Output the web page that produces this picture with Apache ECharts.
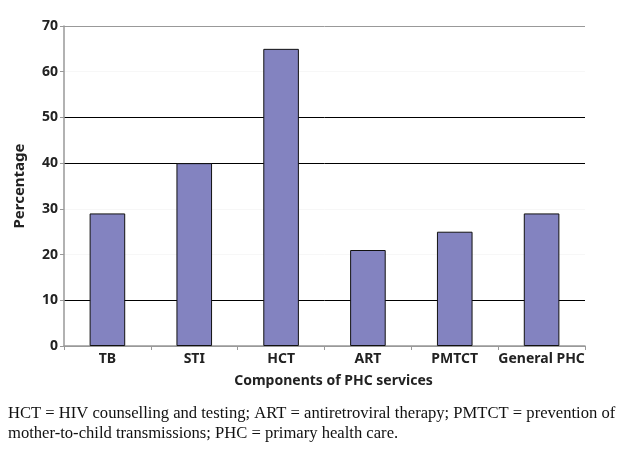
<!DOCTYPE html>
<html>
<head>
<meta charset="utf-8">
<script src="https://cdn.jsdelivr.net/npm/echarts@6/dist/echarts.min.js"></script>
<style>
  html, body { margin: 0; padding: 0; background: #fff; }
  #chart { width: 640px; height: 450px; }
</style>
</head>
<body>
<div id="chart"></div>
<script>
// data
const categories = ['TB', 'STI', 'HCT', 'ART', 'PMTCT', 'General PHC']
const percentages = [29, 40, 65, 21, 25, 29]
const noteLines = [
  'HCT = HIV counselling and testing; ART = antiretroviral therapy; PMTCT = prevention of',
  'mother-to-child transmissions; PHC = primary health care.'
]

const chart = echarts.init(document.getElementById('chart'))

// lines at 20, 30, 60 are almost invisible in the source
const gridColors = ['#999', '#000', '#f7f7f7', '#f7f7f7', '#000', '#000', '#f7f7f7', '#999']

const option = {
  animation: false,
  backgroundColor: '#fff',
  grid: { left: 64, right: 55, top: 26, bottom: 104, containLabel: false },
  xAxis: {
    type: 'category',
    data: categories,
    name: 'Components of PHC services',
    nameLocation: 'middle',
    nameGap: 28,
    nameTextStyle: { fontFamily: 'Noto Sans', fontWeight: 'bold', fontSize: 14, color: '#222', padding: [0, 0, 0, 18] },
    axisLine: { lineStyle: { color: '#999', width: 1.5 } },
    axisTick: { show: true, alignWithLabel: false, length: 4, lineStyle: { color: '#999' } },
    axisLabel: { fontFamily: 'Noto Sans', fontWeight: 'bold', fontSize: 14, color: '#222', margin: 6, interval: 0 }
  },
  yAxis: {
    type: 'value',
    min: 0,
    max: 70,
    interval: 10,
    name: 'Percentage',
    nameLocation: 'middle',
    nameGap: 37,
    nameTextStyle: { fontFamily: 'Noto Sans', fontWeight: 'bold', fontSize: 15, color: '#222' },
    axisLine: { show: true, lineStyle: { color: '#999', width: 1.5 } },
    axisTick: { show: true, length: 4, lineStyle: { color: '#999' } },
    axisLabel: { fontFamily: 'Noto Sans', fontWeight: 'bold', fontSize: 14, color: '#222', margin: 6 },
    splitLine: { show: true, lineStyle: { color: gridColors, width: 1 } }
  },
  series: [{
    type: 'bar',
    data: percentages,
    barWidth: '41%',
    itemStyle: { color: '#8383c0', borderColor: '#111', borderWidth: 1 }
  }],
  graphic: noteLines.map((line, i) => ({
    type: 'text',
    left: 8,
    top: 405 + i * 20,
    style: {
      text: line,
      font: '16.6px "Liberation Serif"',
      fill: '#111'
    }
  }))
}

chart.setOption(option)
</script>
</body>
</html>
